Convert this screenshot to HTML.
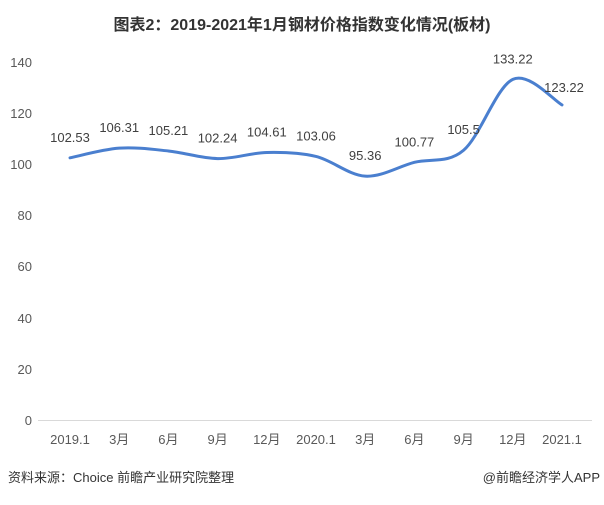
<!DOCTYPE html>
<html><head><meta charset="utf-8"><style>
body{margin:0;background:#fff;width:604px;height:500px;overflow:hidden;font-family:"Liberation Sans","Noto Sans CJK SC",sans-serif}
</style></head><body>
<svg width="604" height="500" xmlns="http://www.w3.org/2000/svg" font-family="Liberation Sans, Noto Sans CJK SC, sans-serif">
<text x="302" y="30" text-anchor="middle" font-size="16" font-weight="bold" fill="#333">图表2：2019-2021年1月钢材价格指数变化情况(板材)</text>
<line x1="38" y1="420.5" x2="592" y2="420.5" stroke="#d9d9d9" stroke-width="1"/>
<g font-size="13" fill="#595959" text-anchor="end">
<text x="32" y="67">140</text><text x="32" y="118">120</text><text x="32" y="169">100</text>
<text x="32" y="220">80</text><text x="32" y="271">60</text><text x="32" y="323">40</text>
<text x="32" y="374">20</text><text x="32" y="425">0</text>
</g>
<g id="xl" font-size="13" fill="#595959" text-anchor="middle"></g>
<path id="ln" fill="none" stroke="#4a7fcf" stroke-width="3" stroke-linecap="round"/>
<g id="vl" font-size="13" fill="#404040" text-anchor="middle"></g>
<text x="8" y="482" font-size="13" fill="#333">资料来源：Choice 前瞻产业研究院整理</text>
<text x="600" y="482" font-size="13" fill="#333" text-anchor="end">@前瞻经济学人APP</text>
</svg>
<script>
var v=[102.53,106.31,105.21,102.24,104.61,103.06,95.36,100.77,105.5,133.22,123.22];
var lab=["2019.1","3月","6月","9月","12月","2020.1","3月","6月","9月","12月","2021.1"];
var P=v.map(function(a,i){return [70+i*49.2,420-a*2.557]});
var d="M"+P[0][0]+","+P[0][1];
for(var i=0;i<P.length-1;i++){var p0=P[Math.max(0,i-1)],p1=P[i],p2=P[i+1],p3=P[Math.min(P.length-1,i+2)];
d+=" C"+(p1[0]+(p2[0]-p0[0])/6)+","+(p1[1]+(p2[1]-p0[1])/6)+" "+(p2[0]-(p3[0]-p1[0])/6)+","+(p2[1]-(p3[1]-p1[1])/6)+" "+p2[0]+","+p2[1];}
document.getElementById("ln").setAttribute("d",d);
var ns="http://www.w3.org/2000/svg",xl=document.getElementById("xl"),vl=document.getElementById("vl");
P.forEach(function(p,i){var t=document.createElementNS(ns,"text");t.setAttribute("x",p[0]);t.setAttribute("y",444);t.textContent=lab[i];xl.appendChild(t);
var u=document.createElementNS(ns,"text");u.setAttribute("x",i==10?p[0]+2:p[0]);u.setAttribute("y",i==10?p[1]-13:p[1]-16);u.textContent=v[i];vl.appendChild(u);});
</script>
</body></html>
